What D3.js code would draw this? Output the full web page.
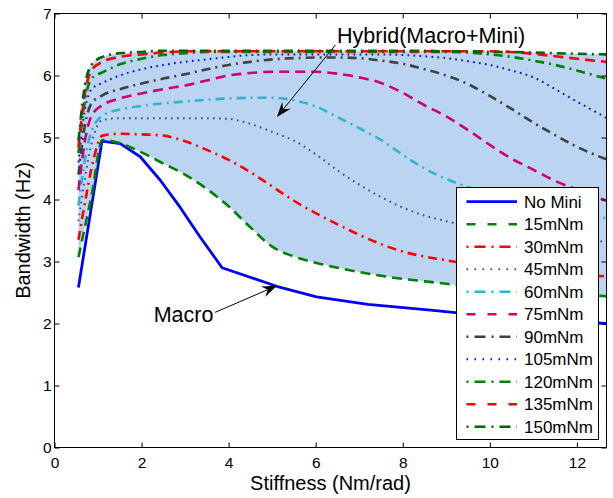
<!DOCTYPE html>
<html><head><meta charset="utf-8">
<script src="https://cdn.jsdelivr.net/npm/d3@7"></script>
<style>
body{margin:0;background:#fff}
svg{display:block}
text{font-family:"Liberation Sans",Arial,Helvetica,sans-serif;fill:#000}
</style>
</head><body>
<svg id="c" width="613" height="498"></svg>
<script>
// ---------------- data ----------------
const stiffness = [0.55, 0.7, 0.85, 1.1, 1.5, 2, 2.5, 3, 3.5, 4, 4.5, 5, 5.5, 6, 6.5, 7, 7.5, 8, 8.5, 9, 9.5, 10, 10.5, 11, 11.5, 12, 12.67];
const noMiniStiffness = [0.55, 1.09, 1.51, 1.97, 2.43, 2.88, 3.34, 3.85, 5.1, 6.02, 7.2, 8.7, 10, 11.5, 12.67];
const noMini = [2.58, 4.94, 4.90, 4.69, 4.31, 3.88, 3.40, 2.90, 2.60, 2.43, 2.31, 2.21, 2.12, 2.05, 2.00];
const mini15  = [3.07, 3.56, 4.06, 4.96, 4.91, 4.76, 4.58, 4.40, 4.17, 3.89, 3.55, 3.24, 3.08, 2.98, 2.90, 2.83, 2.77, 2.72, 2.68, 2.64, 2.60, 2.57, 2.54, 2.52, 2.49, 2.47, 2.44];
const mini30  = [3.35, 3.95, 4.50, 5.03, 5.06, 5.05, 5.03, 4.94, 4.80, 4.64, 4.44, 4.21, 3.98, 3.78, 3.60, 3.43, 3.28, 3.16, 3.08, 3.02, 2.96, 2.92, 2.88, 2.85, 2.82, 2.79, 2.76];
const mini45  = [3.65, 4.35, 4.90, 5.28, 5.31, 5.31, 5.31, 5.31, 5.31, 5.30, 5.22, 5.09, 4.95, 4.73, 4.47, 4.24, 4.04, 3.87, 3.74, 3.65, 3.57, 3.51, 3.46, 3.42, 3.38, 3.35, 3.32];
const mini60  = [3.90, 4.65, 5.10, 5.35, 5.45, 5.51, 5.55, 5.58, 5.61, 5.63, 5.64, 5.64, 5.60, 5.50, 5.33, 5.15, 4.96, 4.72, 4.50, 4.33, 4.20, 4.08, 3.98, 3.90, 3.83, 3.77, 3.70];
const mini75  = [4.15, 4.95, 5.35, 5.52, 5.63, 5.71, 5.78, 5.84, 5.92, 6.00, 6.04, 6.06, 6.06, 6.06, 6.03, 5.97, 5.88, 5.72, 5.52, 5.34, 5.12, 4.88, 4.66, 4.48, 4.30, 4.16, 3.98];
const mini90  = [4.40, 5.20, 5.55, 5.68, 5.78, 5.87, 5.95, 6.02, 6.10, 6.17, 6.22, 6.26, 6.28, 6.29, 6.29, 6.28, 6.24, 6.19, 6.10, 6.00, 5.86, 5.67, 5.46, 5.24, 5.04, 4.85, 4.65];
const mini105 = [4.60, 5.45, 5.78, 5.88, 6.00, 6.10, 6.17, 6.22, 6.26, 6.30, 6.33, 6.34, 6.34, 6.34, 6.34, 6.34, 6.34, 6.33, 6.31, 6.28, 6.23, 6.17, 6.08, 5.97, 5.78, 5.58, 5.32];
const mini120 = [4.75, 5.60, 5.95, 6.05, 6.18, 6.27, 6.33, 6.36, 6.38, 6.38, 6.38, 6.38, 6.38, 6.38, 6.38, 6.38, 6.38, 6.38, 6.38, 6.38, 6.37, 6.34, 6.30, 6.24, 6.17, 6.08, 5.95];
const mini135 = [4.85, 5.72, 6.08, 6.22, 6.30, 6.34, 6.37, 6.39, 6.39, 6.39, 6.39, 6.39, 6.39, 6.39, 6.39, 6.39, 6.39, 6.39, 6.39, 6.39, 6.39, 6.39, 6.38, 6.35, 6.31, 6.27, 6.22];
const mini150 = [4.95, 5.85, 6.17, 6.30, 6.36, 6.38, 6.40, 6.40, 6.40, 6.40, 6.40, 6.40, 6.40, 6.40, 6.40, 6.40, 6.40, 6.40, 6.40, 6.39, 6.39, 6.38, 6.38, 6.37, 6.36, 6.35, 6.34];
const seriesNames = ["No Mini", "15mNm", "30mNm", "45mNm", "60mNm", "75mNm", "90mNm", "105mNm", "120mNm", "135mNm", "150mNm"];
const xTicks = [0, 2, 4, 6, 8, 10, 12];
const yTicks = [0, 1, 2, 3, 4, 5, 6, 7];
const xLabel = "Stiffness (Nm/rad)";
const yLabel = "Bandwidth (Hz)";
const hybridLabel = "Hybrid(Macro+Mini)";
const macroLabel = "Macro";
// annotation anchors in data units
const hybridTail = [6.45, 6.49], hybridTip = [5.11, 5.33], hybridText = [6.49, 6.52];
const macroTail = [3.69, 2.18], macroTip = [5.11, 2.61], macroText = [3.65, 2.03];

// ---------------- styles ----------------
const DASH = "10,6", DASHDOT = "9,5,2,5", DOT = "1.6,4.4";
const LDASH = "9,12", LDASHDOT = "2,6,11,6", LDOT = "1.6,6.4";
const styles = [
  {c:"#0000ff", d:null,    ld:null,     w:2.8},
  {c:"#008000", d:DASH,    ld:LDASH,    w:2.6},
  {c:"#ff0000", d:DASHDOT, ld:LDASHDOT, w:2.6},
  {c:"#4444a6", d:DOT,     ld:LDOT,     w:2},
  {c:"#30b4d2", d:DASHDOT, ld:LDASHDOT, w:2.6},
  {c:"#d0006e", d:DASH,    ld:LDASH,    w:2.6},
  {c:"#404040", d:DASHDOT, ld:LDASHDOT, w:2.6},
  {c:"#0000ff", d:DOT,     ld:LDOT,     w:2},
  {c:"#008000", d:DASHDOT, ld:LDASHDOT, w:2.6},
  {c:"#ff0000", d:DASH,    ld:LDASH,    w:2.6},
  {c:"#006400", d:DASHDOT, ld:LDASHDOT, w:2.6}
];

// ---------------- chart ----------------
const svg = d3.select("#c");
const L = 54.5, R = 606.5, T = 13.5, B = 447.5;
const x = d3.scaleLinear().domain([0, 12.68]).range([L, R]);
const y = d3.scaleLinear().domain([0, 7]).range([B, T]);

svg.append("defs").append("clipPath").attr("id","clip")
  .append("rect").attr("x",L).attr("y",T).attr("width",R-L).attr("height",B-T);

const plot = svg.append("g").attr("clip-path","url(#clip)");

// shaded hybrid region
const band = stiffness.map((s,i)=>({s, lo:mini15[i], hi:mini150[i]}));
plot.append("path").datum(band)
  .attr("fill","#bad4f2")
  .attr("d", d3.area().x(d=>x(d.s)).y0(d=>y(d.lo)).y1(d=>y(d.hi)).curve(d3.curveMonotoneX));

// lines
const hybridSeries = [mini15, mini30, mini45, mini60, mini75, mini90, mini105, mini120, mini135, mini150];
const lineGen = d3.line().x(d=>x(d[0])).y(d=>y(d[1]));
plot.append("path")
  .datum(noMiniStiffness.map((s,i)=>[s, noMini[i]]))
  .attr("fill","none").attr("stroke",styles[0].c).attr("stroke-width",styles[0].w)
  .attr("stroke-linejoin","round")
  .attr("d", lineGen);
hybridSeries.forEach((vals,k)=>{
  const st = styles[k+1];
  plot.append("path")
    .datum(stiffness.map((s,i)=>[s, vals[i]]))
    .attr("fill","none").attr("stroke",st.c).attr("stroke-width",st.w)
    .attr("stroke-dasharray",st.d)
    .attr("d", lineGen.curve(d3.curveMonotoneX));
});

// axes
function styleAxis(g, labels){
  g.select(".domain").remove();
  g.selectAll(".tick line").attr("stroke","#000").attr("stroke-width",1);
  if(!labels) g.selectAll(".tick text").remove();
  else g.selectAll(".tick text").attr("font-size",15.5).attr("font-family",'"Liberation Sans",Arial,sans-serif').attr("fill","#000");
}
svg.append("g").attr("transform",`translate(0,${B})`)
  .call(d3.axisBottom(x).tickValues(xTicks).tickSize(-5).tickPadding(9).tickFormat(d3.format("d")))
  .call(g=>styleAxis(g,true));
svg.append("g").attr("transform",`translate(0,${T})`)
  .call(d3.axisTop(x).tickValues(xTicks).tickSize(-5))
  .call(g=>styleAxis(g,false));
svg.append("g").attr("transform",`translate(${L},0)`)
  .call(d3.axisLeft(y).tickValues(yTicks).tickSize(-5).tickPadding(3).tickFormat(d3.format("d")))
  .call(g=>styleAxis(g,true));
svg.append("g").attr("transform",`translate(${R},0)`)
  .call(d3.axisRight(y).tickValues(yTicks).tickSize(-5))
  .call(g=>styleAxis(g,false));

svg.append("rect").attr("x",L).attr("y",T).attr("width",R-L).attr("height",B-T)
  .attr("fill","none").attr("stroke","#000").attr("stroke-width",1);

// axis labels
svg.append("text").attr("x",(L+R)/2).attr("y",490).attr("text-anchor","middle")
  .attr("font-size",20).text(xLabel);
svg.append("text").attr("transform",`translate(30,${(T+B)/2}) rotate(-90)`)
  .attr("text-anchor","middle").attr("font-size",20).text(yLabel);

// annotations
function arrow(tail, tip){
  const x0=x(tail[0]), y0=y(tail[1]), x1=x(tip[0]), y1=y(tip[1]);
  const dx=x1-x0, dy=y1-y0, len=Math.hypot(dx,dy), ux=dx/len, uy=dy/len, nx=-uy, ny=ux;
  const hl=15, hw=5.5, notch=10;
  svg.append("line").attr("x1",x0).attr("y1",y0).attr("x2",x1-ux*notch).attr("y2",y1-uy*notch)
    .attr("stroke","#000").attr("stroke-width",1);
  const pts=[[x1,y1],[x1-ux*hl+nx*hw,y1-uy*hl+ny*hw],[x1-ux*notch,y1-uy*notch],[x1-ux*hl-nx*hw,y1-uy*hl-ny*hw]];
  svg.append("polygon").attr("points",pts.map(p=>p.join(",")).join(" ")).attr("fill","#000");
}
arrow(hybridTail, hybridTip);
arrow(macroTail, macroTip);
svg.append("text").attr("x",x(hybridText[0])).attr("y",y(hybridText[1])).attr("font-size",21.5).text(hybridLabel);
svg.append("text").attr("x",x(macroText[0])).attr("y",y(macroText[1])).attr("text-anchor","end").attr("font-size",21.5).text(macroLabel);

// legend
const lg = svg.append("g");
lg.append("rect").attr("x",456.5).attr("y",187.5).attr("width",142).attr("height",252)
  .attr("fill","#fff").attr("stroke","#000").attr("stroke-width",1);
seriesNames.forEach((name,i)=>{
  const yy = 201.7 + i*22.5, st = styles[i];
  lg.append("line").attr("x1",466.5).attr("x2",517).attr("y1",yy).attr("y2",yy)
    .attr("stroke",st.c).attr("stroke-width",st.w).attr("stroke-dasharray",st.ld);
  lg.append("text").attr("x",524).attr("y",yy+6).attr("font-size",17).text(name);
});
</script>
</body></html>
